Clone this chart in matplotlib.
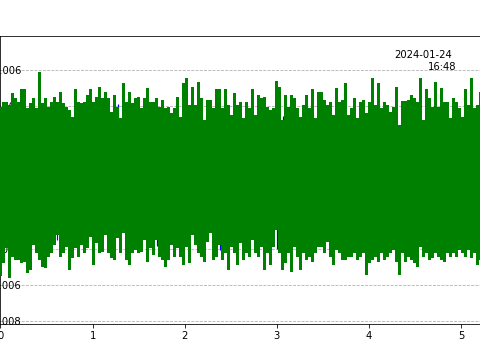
import numpy as np
import matplotlib
matplotlib.use("Agg")
import matplotlib.pyplot as plt

# sample period of the envelope columns (s)
dt = 0.0326

# upper / lower envelope of the green trace, in units of 1e-3
upper = [
    3.97, 4.25, 4.25, 4.06, 4.72, 4.43, 4.25, 4.96, 4.96, 3.88,
    4.16, 4.43, 3.91, 5.89, 4.16, 4.43, 3.97, 4.25, 4.53, 4.25,
    4.81, 4.16, 3.97, 3.78, 3.41, 4.96, 4.25, 4.16, 4.25, 4.62,
    4.96, 4.25, 4.53, 5.08, 4.43, 4.81, 4.43, 3.69, 4.62, 3.97,
    3.32, 5.27, 4.25, 4.81, 4.16, 4.43, 4.53, 3.91, 4.43, 5.03,
    4.25, 4.25, 4.43, 3.97, 4.34, 3.88, 3.97, 3.60, 3.88, 4.53,
    3.41, 5.27, 5.55, 4.06, 5.08, 4.06, 5.36, 4.43, 3.23, 4.34,
    4.34, 3.88, 4.96, 4.96, 3.88, 4.96, 4.06, 3.50, 4.72, 4.06,
    4.25, 3.32, 4.21, 3.88, 4.96, 3.50, 4.62, 4.43, 4.53, 3.97,
    3.78, 3.88, 5.40, 5.08, 3.23, 4.62, 3.97, 4.62, 4.43, 3.88,
    3.41, 4.06, 4.62, 3.88, 4.96, 3.32, 4.81, 4.81, 4.34, 4.06,
    4.25, 3.50, 4.99, 4.25, 4.34, 5.27, 3.50, 3.88, 4.47, 3.32,
    4.25, 4.34, 3.60, 4.25, 5.59, 4.06, 5.27, 3.88, 4.25, 4.06,
    3.69, 3.97, 5.08, 2.95, 4.28, 4.28, 4.34, 4.62, 4.43, 4.25,
    5.59, 3.23, 4.96, 4.43, 3.97, 5.36, 3.97, 4.99, 4.25, 4.25,
    3.32, 4.43, 4.25, 3.88, 3.41, 4.96, 4.06, 5.55, 3.88, 4.06,
    4.81,
]
lower = [
    -5.50, -4.77, -3.90, -5.61, -4.40, -4.59, -4.59, -4.77, -4.68, -5.33,
    -5.15, -3.75, -4.21, -4.59, -4.96, -5.05, -4.40, -4.21, -3.75, -3.19,
    -4.40, -4.21, -3.84, -5.15, -4.49, -3.94, -4.40, -3.75, -4.21, -3.94,
    -3.29, -4.87, -3.66, -4.21, -4.12, -3.19, -4.21, -4.49, -4.59, -3.38,
    -4.21, -3.10, -4.59, -4.87, -4.21, -4.03, -4.21, -4.12, -3.47, -4.68,
    -3.94, -4.31, -3.47, -4.40, -4.59, -4.96, -4.59, -3.75, -4.40, -3.94,
    -4.40, -4.87, -3.84, -4.77, -3.19, -3.75, -4.21, -4.40, -4.68, -3.56,
    -3.10, -4.59, -4.40, -3.75, -4.59, -4.21, -5.15, -3.84, -4.21, -4.87,
    -3.66, -4.59, -4.21, -4.40, -3.47, -4.21, -4.40, -3.84, -5.15, -4.21,
    -4.87, -3.84, -2.91, -4.21, -5.15, -4.77, -4.21, -5.24, -3.84, -4.40,
    -5.15, -4.21, -4.59, -4.40, -4.68, -4.21, -3.84, -3.84, -4.21, -3.56,
    -4.40, -4.87, -4.03, -4.21, -4.59, -4.59, -4.40, -4.40, -4.21, -4.59,
    -4.40, -4.21, -5.42, -4.77, -4.59, -4.40, -4.68, -4.21, -4.59, -4.40,
    -4.21, -4.03, -4.68, -5.42, -4.21, -4.68, -4.40, -4.59, -4.77, -4.96,
    -3.84, -4.40, -4.21, -4.59, -4.49, -4.21, -4.40, -4.59, -4.68, -4.21,
    -4.40, -4.21, -4.40, -4.03, -4.21, -4.40, -4.03, -4.49, -4.21, -4.87,
    -4.59,
]

# blue trace, only visible where it pokes out from under the green one
blue_t = [0.619, 1.271, 1.695, 2.380, 2.999, 3.064]
blue_hi = [2.50, 4.10, 2.50, 2.50, 2.50, 3.45]
blue_lo = [-3.50, -2.50, -3.80, -4.05, -3.95, -2.50]

yticks = [-0.008, -0.006, -0.004, -0.002, 0.0, 0.002, 0.004, 0.006]
stamp_date = "2024-01-24"
stamp_time = "16:48"

t = np.arange(len(upper)) * dt
hi = np.array(upper) * 1e-3
lo = np.array(lower) * 1e-3

# 72 dpi so that the default 10pt text comes out as small as in the original
fig = plt.figure(figsize=(480 / 72, 360 / 72), dpi=72)
ax = fig.add_axes([0.001, 0.099, 1.0554, 0.801])

ax.vlines(blue_t, np.array(blue_lo) * 1e-3, np.array(blue_hi) * 1e-3,
          color="blue", lw=1.2, zorder=2.9)
ax.fill_between(t, lo, hi, step="mid", color="green", lw=0, zorder=3)

ax.set_xlim(0, 5.5)
ax.set_ylim(-0.00818, 0.00791)
ax.set_yticks(yticks)
ax.tick_params(axis="y", pad=-24.5)
ax.grid(True, axis="y", linestyle="--", color="#b0b0b0", lw=0.8)
ax.spines["right"].set_visible(False)

fig.text(452 / 480, 1 - 58 / 360, stamp_date, ha="right", va="baseline", fontsize=10)
fig.text(456 / 480, 1 - 70 / 360, stamp_time, ha="right", va="baseline", fontsize=10)

fig.savefig("out.png", dpi=72)
